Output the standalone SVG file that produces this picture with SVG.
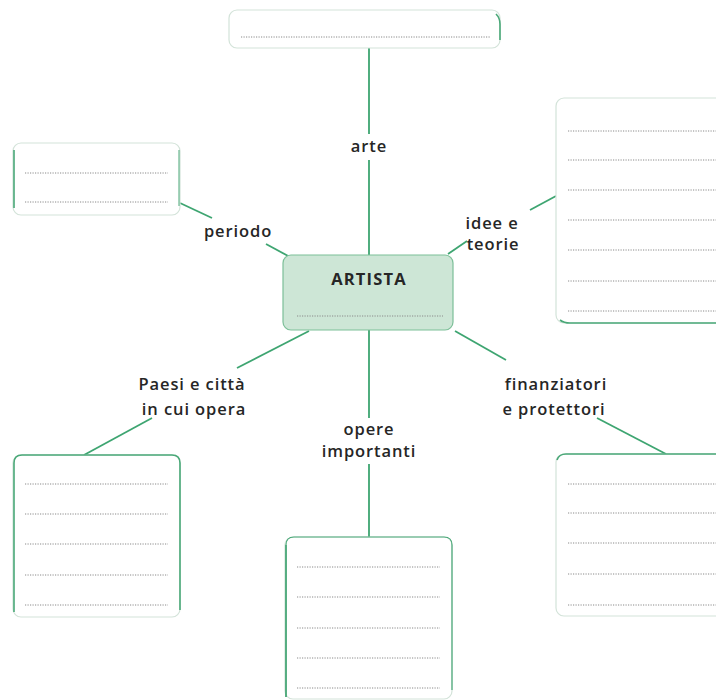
<svg xmlns="http://www.w3.org/2000/svg" width="716" height="700" viewBox="0 0 716 700">
<style>
.box{fill:#fff;stroke:#d3e3d9;stroke-width:1.2}
.g{fill:none;stroke:#4aa878;stroke-width:1.6}
.dot{stroke:#8a8a8a;stroke-width:1;stroke-dasharray:1.2 1.3}
.lbl{font-family:"Open Sans","Liberation Sans",sans-serif;font-size:16.5px;font-weight:600;fill:#262626;text-anchor:middle;letter-spacing:0.9px}
.conn{stroke:#3ea571;stroke-width:1.8;fill:none}
</style>
<rect width="716" height="700" fill="#fff"/>
<g id="connectors">
<line class="conn" x1="369" y1="48" x2="369" y2="134"/>
<line class="conn" x1="369" y1="160" x2="369" y2="255"/>
<line class="conn" x1="180" y1="203" x2="212" y2="218"/>
<line class="conn" x1="266" y1="244" x2="290" y2="257"/>
<line class="conn" x1="556" y1="196" x2="530" y2="210"/>
<line class="conn" x1="467" y1="241" x2="448" y2="254"/>
<line class="conn" x1="309" y1="331" x2="237" y2="368"/>
<line class="conn" x1="152" y1="418" x2="84" y2="455"/>
<line class="conn" x1="369" y1="330" x2="369" y2="418"/>
<line class="conn" x1="369" y1="464" x2="369" y2="537"/>
<line class="conn" x1="455" y1="331" x2="506" y2="360"/>
<line class="conn" x1="597" y1="418" x2="666" y2="454"/>
</g>
<g id="n-arte">
<rect class="box" x="229" y="10" width="271" height="38" rx="8"/>
<path class="g" d="M496 14 Q500 18 500 24 V40"/>
<line class="dot" x1="241" y1="37" x2="490" y2="37"/>
</g>
<g id="n-periodo">
<rect class="box" x="13" y="143" width="167" height="72" rx="8"/>
<path class="g" d="M14 150 V208"/>
<path class="g" d="M179 150 V206" style="stroke-width:1"/>
<line class="dot" x1="25" y1="173" x2="168" y2="173"/>
<line class="dot" x1="25" y1="202" x2="168" y2="202"/>
</g>
<g id="n-artista">
<rect x="283" y="255" width="170" height="75" rx="8" fill="#cde6d6" stroke="#7cbf98" stroke-width="1.2"/>
<text class="lbl" x="369" y="285" style="font-weight:700;font-size:16.5px;letter-spacing:1.2px">ARTISTA</text>
<line class="dot" x1="297" y1="316" x2="443" y2="316"/>
</g>
<g id="n-idee">
<rect class="box" x="556" y="98" width="175" height="225" rx="8"/>
<path class="g" d="M560 320 Q564 323 570 323 H716"/>
<line class="dot" x1="568" y1="131" x2="716" y2="131"/>
<line class="dot" x1="568" y1="160" x2="716" y2="160"/>
<line class="dot" x1="568" y1="190" x2="716" y2="190"/>
<line class="dot" x1="568" y1="220" x2="716" y2="220"/>
<line class="dot" x1="568" y1="250" x2="716" y2="250"/>
<line class="dot" x1="568" y1="281" x2="716" y2="281"/>
<line class="dot" x1="568" y1="311" x2="716" y2="311"/>
</g>
<g id="n-paesi">
<rect class="box" x="13" y="455" width="167" height="162" rx="8"/>
<path class="g" d="M14 612 V463 Q14 455 22 455 H172 Q180 455 180 463 V610"/>
<line class="dot" x1="25" y1="484" x2="168" y2="484"/>
<line class="dot" x1="25" y1="514" x2="168" y2="514"/>
<line class="dot" x1="25" y1="544" x2="168" y2="544"/>
<line class="dot" x1="25" y1="575" x2="168" y2="575"/>
<line class="dot" x1="25" y1="605" x2="168" y2="605"/>
</g>
<g id="n-opere">
<rect class="box" x="285" y="537" width="167" height="162" rx="8"/>
<path class="g" d="M286 697 V545 Q286 537 294 537 H444 Q452 537 452 545 V690" style="stroke-width:1.2"/>
<path class="g" d="M286 697 V545"/>
<line class="dot" x1="297" y1="567" x2="440" y2="567"/>
<line class="dot" x1="297" y1="597" x2="440" y2="597"/>
<line class="dot" x1="297" y1="628" x2="440" y2="628"/>
<line class="dot" x1="297" y1="658" x2="440" y2="658"/>
<line class="dot" x1="297" y1="688" x2="440" y2="688"/>
</g>
<g id="n-finanziatori">
<rect class="box" x="556" y="454" width="175" height="162" rx="8"/>
<path class="g" d="M557 460 Q559 454 566 454 H716"/>
<line class="dot" x1="568" y1="484" x2="716" y2="484"/>
<line class="dot" x1="568" y1="513" x2="716" y2="513"/>
<line class="dot" x1="568" y1="543" x2="716" y2="543"/>
<line class="dot" x1="568" y1="574" x2="716" y2="574"/>
<line class="dot" x1="568" y1="605" x2="716" y2="605"/>
</g>
<g id="labels">
<text class="lbl" x="369" y="152">arte</text>
<text class="lbl" x="238" y="237">periodo</text>
<text class="lbl" x="492" y="229">idee e</text>
<text class="lbl" x="493" y="250">teorie</text>
<text class="lbl" x="192" y="390">Paesi e città</text>
<text class="lbl" x="194" y="415">in cui opera</text>
<text class="lbl" x="369" y="435">opere</text>
<text class="lbl" x="369" y="457">importanti</text>
<text class="lbl" x="556" y="390">finanziatori</text>
<text class="lbl" x="554" y="415">e protettori</text>
</g>
</svg>
